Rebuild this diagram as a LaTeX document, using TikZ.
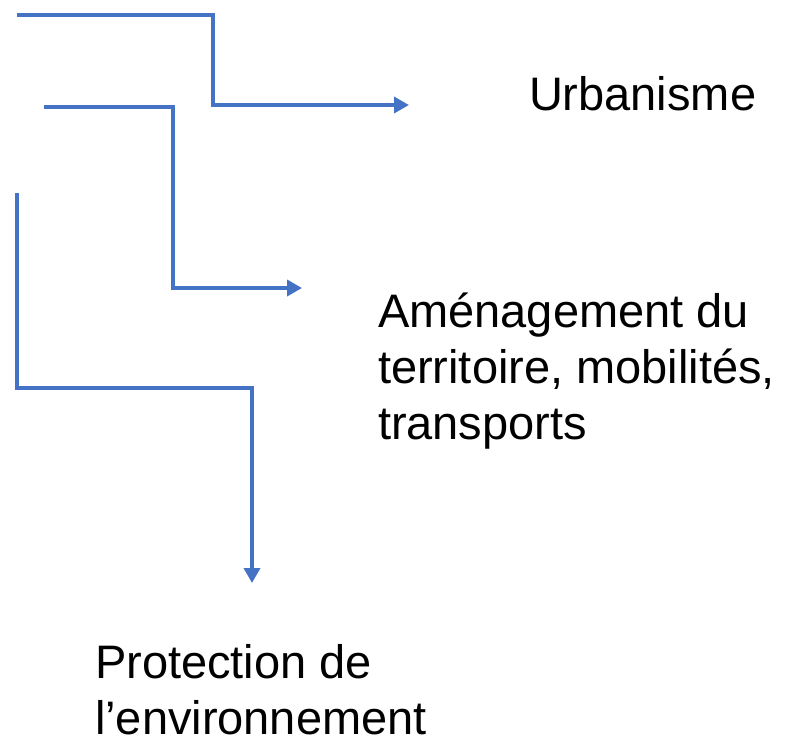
\documentclass[tikz,border=0pt]{standalone}
\usepackage{fontspec}
\setmainfont{Liberation Sans}
\usetikzlibrary{arrows.meta}
\definecolor{linkblue}{HTML}{4472C4}
\begin{document}
\begin{tikzpicture}[x=1pt,y=-1pt,
  link/.style={draw=linkblue,line width=3.5pt,line join=miter,-{Triangle[length=15pt,width=16pt]}},
  label/.style={inner sep=0pt,outer sep=0pt,align=left,anchor=base west,font=\fontsize{47}{56}\selectfont}]
\useasboundingbox (0,0) rectangle (791,737);
\coordinate (s1) at (17,15);
\coordinate (t1) at (409,105);
\coordinate (s2) at (44,107);
\coordinate (t2) at (302,288);
\coordinate (s3) at (17,193);
\coordinate (t3) at (252,583);
\node[label] (urb) at (529,110) {Urbanisme};
\node[label] (amen) at (378,439) {Aménagement du\\territoire, mobilités,\\transports};
\node[label] (prot) at (95,734) {Protection de\\l’environnement};
\draw[link] (s1) -- (213,15) -- (213,105) -- (t1);
\draw[link] (s2) -- (173,107) -- (173,288) -- (t2);
\draw[link] (s3) -- (17,388) -- (252,388) -- (t3);
\end{tikzpicture}
\end{document}
